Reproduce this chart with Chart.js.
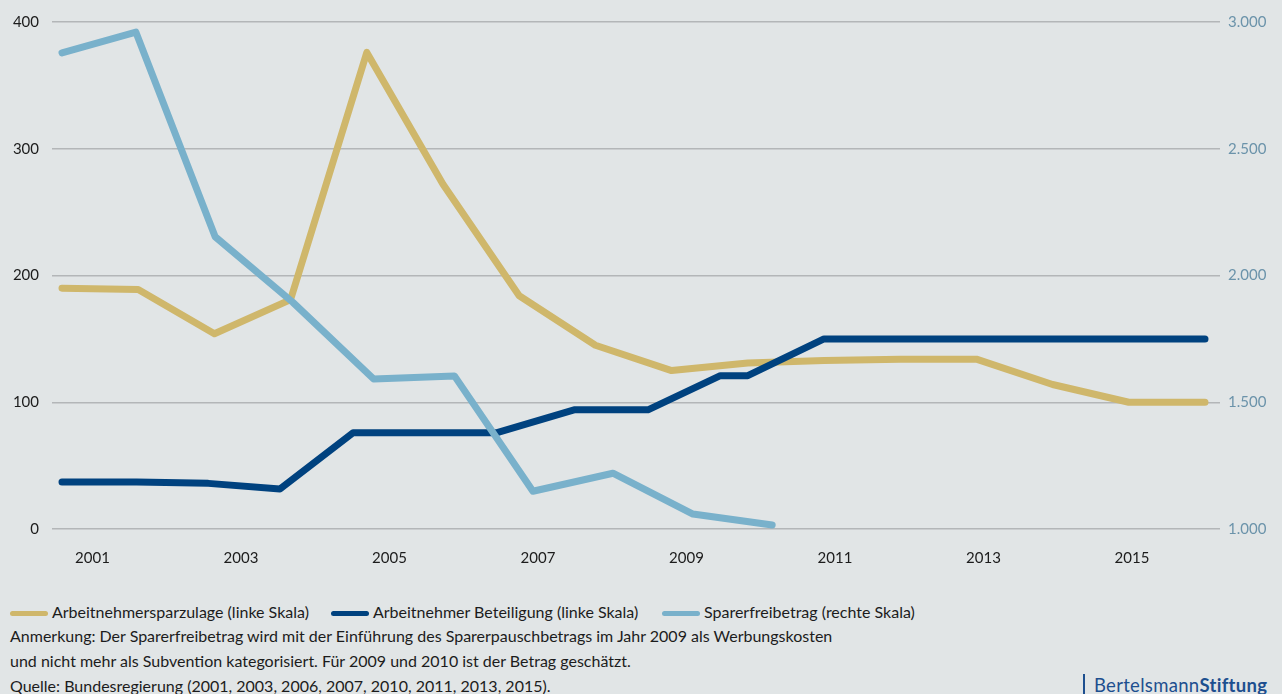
<!DOCTYPE html>
<html><head><meta charset="utf-8">
<script src="https://cdn.jsdelivr.net/npm/chart.js@4"></script>
<style>
html,body{margin:0;padding:0;}
body{background:#e1e5e6;width:1282px;height:694px;overflow:hidden;font-family:Lato,"Noto Sans",sans-serif;color:#1c1c1c;position:relative;}
#wrap{position:absolute;left:0;top:0;width:1282px;height:600px;}
.li{position:absolute;top:602px;font-size:16px;white-space:nowrap;line-height:20px;}
.sw{position:absolute;top:9px;height:5px;border-radius:3px;}
.note{position:absolute;left:10px;font-size:16px;white-space:nowrap;line-height:20px;}
#logo{position:absolute;left:1083px;top:674px;height:22px;border-left:2px solid #1d4f8f;padding-left:9px;font-size:18.5px;line-height:22px;color:#1d4f8f;white-space:nowrap;letter-spacing:0.3px;}
</style></head>
<body>
<div id="wrap"><canvas id="c"></canvas></div>
<div class="li" style="left:52px"><span class="sw" style="left:-42px;width:38px;background:#cfb76b"></span>Arbeitnehmersparzulage (linke Skala)</div>
<div class="li" style="left:373px"><span class="sw" style="left:-42px;width:38px;background:#00427f"></span>Arbeitnehmer Beteiligung (linke Skala)</div>
<div class="li" style="left:704px"><span class="sw" style="left:-42px;width:38px;background:#79b1cb"></span>Sparerfreibetrag (rechte Skala)</div>
<div class="note" style="top:626px">Anmerkung: Der Sparerfreibetrag wird mit der Einführung des Sparerpauschbetrags im Jahr 2009 als Werbungskosten</div>
<div class="note" style="top:651px">und nicht mehr als Subvention kategorisiert. Für 2009 und 2010 ist der Betrag geschätzt.</div>
<div class="note" style="top:676px">Quelle: Bundesregierung (2001, 2003, 2006, 2007, 2010, 2011, 2013, 2015).</div>
<div id="logo">Bertelsmann<b>Stiftung</b></div>
<script>
const years = [2001,2002,2003,2004,2005,2006,2007,2008,2009,2010,2011,2012,2013,2014,2015,2016];
const tickYears = [2001,2003,2005,2007,2009,2011,2013,2015];
const sparzulage = [190,189,154,181,376,272,184,145,125,131,133,134,134,114,100,100];
const beteiligungYears = [2001,2001.98,2002.92,2003.86,2004.82,2005.79,2006.71,2007.72,2008.69,2009.64,2010,2011,2012,2013,2014,2015,2016];
const beteiligung = [37,37,36,31.5,76,76,76,94,94,121,121,150,150,150,150,150,150];
const freibetragYears = [2001,2001.97,2003.01,2004.03,2005.09,2006.15,2007.18,2008.23,2009.28,2010.32];
const freibetrag = [2878,2960,2153,1894,1592,1604,1149,1220,1059,1016];
const leftTicks = [0,100,200,300,400];
const rightTicks = [1000,1500,2000,2500,3000];

const pts = (xs, ys) => xs.map((x,i)=>({x:x, y:ys[i]}));
const fmtDE = v => v.toLocaleString('de-DE');
const base = {fill:false, pointRadius:0, pointHoverRadius:0, borderWidth:7, tension:0, borderCapStyle:'round', borderJoinStyle:'round', xAxisID:'xd'};

new Chart(document.getElementById('c'), {
  type:'line',
  data:{datasets:[
    Object.assign({}, base, {label:'Sparerfreibetrag (rechte Skala)', data:pts(freibetragYears,freibetrag), borderColor:'#79b1cb', yAxisID:'yr', order:1}),
    Object.assign({}, base, {label:'Arbeitnehmer Beteiligung (linke Skala)', data:pts(beteiligungYears,beteiligung), borderColor:'#00427f', yAxisID:'y', order:2}),
    Object.assign({}, base, {label:'Arbeitnehmersparzulage (linke Skala)', data:pts(years,sparzulage), borderColor:'#cfb76b', yAxisID:'y', order:3})
  ]},
  options:{
    responsive:true, maintainAspectRatio:false, animation:false,
    layout:{padding:{top:20,left:0,right:0,bottom:0}},
    plugins:{legend:{display:false}, tooltip:{enabled:false}},
    scales:{
      xd:{type:'linear', display:false, min:2000.8688, max:2016.1969},
      x:{type:'linear', position:'bottom', min:2000.4545, max:2016.185,
         grid:{display:false, drawTicks:false}, border:{display:false},
         afterBuildTicks: a => { a.ticks = tickYears.map(v=>({value:v})); },
         afterFit: a => { a.height = 71; },
         ticks:{padding:20, color:'#1c1c1c', font:{family:'Lato', size:15}, callback: v => String(v), autoSkip:false, maxRotation:0}},
      y:{type:'linear', position:'left', min:0, max:400,
         grid:{color:'#b3b6b8', lineWidth:1.5, drawTicks:false}, border:{display:false},
         afterBuildTicks: a => { a.ticks = leftTicks.map(v=>({value:v})); },
         afterFit: a => { a.width = 52; },
         ticks:{padding:13, color:'#1c1c1c', font:{family:'Lato', size:15}}},
      yr:{type:'linear', position:'right', min:1000, max:3000,
         grid:{display:false, drawTicks:false}, border:{display:false},
         afterBuildTicks: a => { a.ticks = rightTicks.map(v=>({value:v})); },
         afterFit: a => { a.width = 62; },
         ticks:{padding:8, color:'#6b93aa', font:{family:'Lato', size:15}, callback: v => fmtDE(v)}}
    }
  }
});
</script>
</body></html>
